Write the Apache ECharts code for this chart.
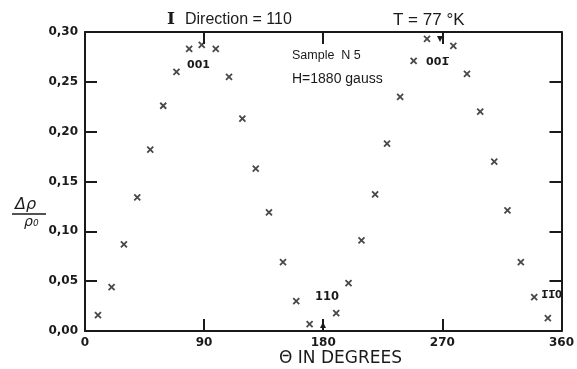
<!DOCTYPE html>
<html>
<head>
<meta charset="utf-8">
<script src="https://cdn.jsdelivr.net/npm/echarts@6/dist/echarts.min.js"></script>
<style>
  html, body { margin: 0; padding: 0; background: #fff; }
  #chart { width: 577px; height: 369px; }
</style>
</head>
<body>
<div id="chart"></div>
<script>
// magnetoresistance vs angle
var theta = [9.8, 20.1, 29.4, 39.5, 49.3, 59.1, 69.1, 78.7, 88.2, 98.8, 108.8, 118.9,
             129, 139, 149.6, 159.6, 169.7, 189.8, 199.1, 208.9, 219.2, 228.2, 238.1,
             248.3, 258.4, 278.3, 288.6, 298.6, 309.2, 319.2, 329.3, 339.4, 349.7];
var drho = [0.016, 0.044, 0.087, 0.134, 0.182, 0.226, 0.260, 0.283, 0.287, 0.283, 0.255, 0.213,
            0.163, 0.119, 0.069, 0.030, 0.007, 0.018, 0.048, 0.091, 0.137, 0.188, 0.235,
            0.271, 0.293, 0.286, 0.258, 0.220, 0.170, 0.121, 0.069, 0.034, 0.013];
var xTicks = [0, 90, 180, 270, 360];
var yTicks = [0, 0.05, 0.10, 0.15, 0.20, 0.25, 0.30];

var points = theta.map(function (t, i) { return [t, drho[i]]; });

var ink = '#1a1a1a';
var font = 'DejaVu Sans';
var OL = '\u0305'; // combining overline, for the bar over Miller indices

var chart = echarts.init(document.getElementById('chart'));

// frame axis: line + inward ticks, no labels
function frame(extra) {
    var a = {
        type: 'value',
        axisLine: { show: true, onZero: false, lineStyle: { color: ink, width: 2 } },
        axisTick: { show: true, inside: true, length: 12, lineStyle: { color: ink, width: 2 } },
        axisLabel: { show: false },
        splitLine: { show: false }
    };
    return Object.assign(a, extra);
}

option = {
    backgroundColor: '#fff',
    animation: false,
    grid: { left: 85, right: 15, top: 32, bottom: 38 },
    xAxis: [
        frame({
            min: xTicks[0], max: xTicks[xTicks.length - 1], interval: 90,
            axisLabel: { color: ink, fontFamily: font, fontWeight: 'bold', fontSize: 12, margin: 6 }
        }),
        frame({ position: 'top', min: 0, max: 360, interval: 90 })
    ],
    yAxis: [
        frame({
            min: yTicks[0], max: yTicks[yTicks.length - 1], interval: 0.05,
            axisLabel: {
                color: ink, fontFamily: font, fontWeight: 'bold', fontSize: 12, margin: 7,
                formatter: function (v) { return v.toFixed(2).replace('.', ','); }
            }
        }),
        frame({ position: 'right', min: 0, max: 0.30, interval: 0.05 })
    ],
    series: [
        {
            type: 'scatter',
            data: points,
            symbol: 'path://M0,0L10,10M10,0L0,10',
            symbolSize: 6,
            itemStyle: { color: 'rgba(0,0,0,0)', borderColor: ink, borderWidth: 1.8 }
        }
    ],
    graphic: [
        { type: 'text', left: 167, top: 11, style: { text: 'I', font: 'bold 17px "DejaVu Serif"', fill: ink } },
        { type: 'text', left: 185, top: 12, style: { text: 'Direction = 110', font: '16px "Liberation Sans"', fill: ink } },
        { type: 'text', left: 393, top: 12, style: { text: 'T = 77 °K', font: '17px "Liberation Sans"', fill: ink } },
        { type: 'text', left: 292, top: 49, style: { text: 'Sample  N 5', font: '12.5px "Liberation Sans"', fill: ink } },
        { type: 'text', left: 292, top: 72, style: { text: 'H=1880 gauss', font: '14px "Liberation Sans"', fill: ink } },
        { type: 'text', left: 187, top: 60, style: { text: '001', font: 'bold 11px "DejaVu Sans"', fill: ink } },
        { type: 'text', left: 426, top: 57, style: { text: '001' + OL, font: 'bold 11px "DejaVu Sans"', fill: ink } },
        { type: 'text', left: 315, top: 291, style: { text: '110', font: 'bold 11.5px "DejaVu Sans"', fill: ink } },
        { type: 'text', left: 541, top: 290, style: { text: '1' + OL + '1' + OL + '0', font: 'bold 10px "DejaVu Sans"', fill: ink } },
        // little arrows marking the crystal directions on the frame
        { type: 'polygon', shape: { points: [[437, 36], [443, 36], [440, 42]] }, style: { fill: ink } },
        { type: 'polygon', shape: { points: [[320, 328], [326, 328], [323, 322]] }, style: { fill: ink } },
        { type: 'text', left: 15, top: 197, style: { text: 'Δρ', font: 'italic 16px "DejaVu Sans"', fill: ink } },
        { type: 'line', shape: { x1: 12, y1: 214, x2: 46, y2: 214 }, style: { stroke: ink, lineWidth: 1.5 } },
        { type: 'text', left: 24, top: 215, style: { text: 'ρ₀', font: 'italic 14px "DejaVu Sans"', fill: ink } },
        { type: 'text', left: 279, top: 350, style: { text: 'Θ IN DEGREES', font: '17px "DejaVu Sans"', fill: ink } }
    ]
};

if (option && typeof option === "object") {
    chart.setOption(option, true);
}
</script>
</body>
</html>
